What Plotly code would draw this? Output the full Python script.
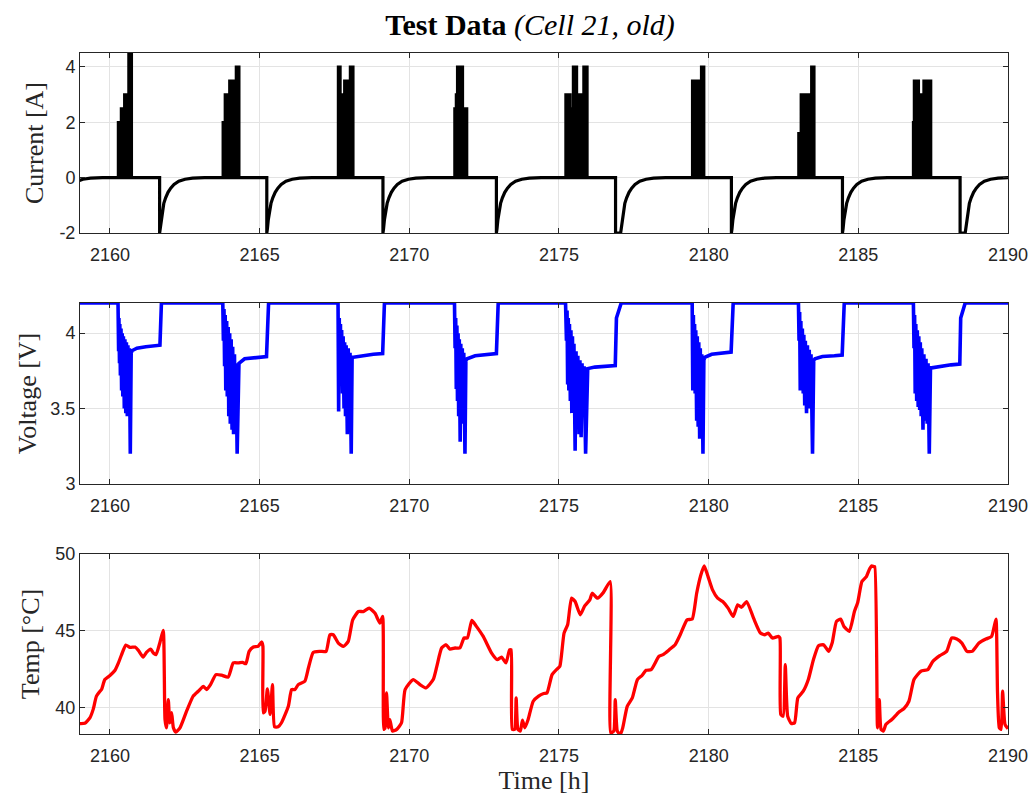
import plotly.graph_objects as go
from plotly.subplots import make_subplots

# ---------------- data ----------------
x_ticks = [2160, 2165, 2170, 2175, 2180, 2185, 2190]

# Current: charge events (jump to -2 A, optional CC hold, then CV taper)
charge_start = [2158.25, 2161.66, 2165.24, 2169.12, 2172.91, 2176.89, 2180.76, 2184.47, 2188.40]
charge_hold = [0, 0, 0, 0, 0, 0.17, 0, 0, 0.17]
taper_dt = [0.02, 0.05, 0.09, 0.14, 0.20, 0.28, 0.37, 0.48, 0.64, 0.85, 1.10, 1.50]
taper_i = [-1.85, -1.52, -1.20, -0.93, -0.73, -0.53, -0.38, -0.25, -0.13, -0.06, -0.02, 0.0]

# Current discharge bursts: step envelope (edges, levels)
burst1_edges = [2160.27, 2160.37, 2160.48, 2160.62, 2160.73]
burst1_levels = [2.0, 2.5, 3.0, 4.5]
burst2_edges = [2163.77, 2163.84, 2163.99, 2164.21, 2164.32]
burst2_levels = [2.0, 3.0, 3.5, 4.0]
burst3_edges = [2167.62, 2167.70, 2167.83, 2167.96, 2168.02, 2168.13]
burst3_levels = [4.0, 3.0, 3.5, 2.0, 4.0]
burst4_edges = [2171.51, 2171.56, 2171.60, 2171.66, 2171.72, 2171.79, 2171.93]
burst4_levels = [2.5, 3.0, 4.0, 3.0, 4.0, 2.5]
burst5_edges = [2175.22, 2175.38, 2175.47, 2175.60, 2175.82, 2175.95]
burst5_levels = [3.0, 2.5, 4.0, 3.0, 4.0]
burst6_edges = [2179.45, 2179.62, 2179.66, 2179.75, 2179.85]
burst6_levels = [3.5, 3.2, 3.5, 4.0]
burst7_edges = [2183.00, 2183.08, 2183.21, 2183.26, 2183.37, 2183.43, 2183.53]
burst7_levels = [1.6, 3.0, 2.2, 3.0, 2.4, 4.0]
burst8_edges = [2186.83, 2186.86, 2187.02, 2187.18, 2187.43]
burst8_levels = [2.0, 3.5, 3.0, 3.5]

# Voltage, per cycle (time, volts)
v_start = [(2159.00, 4.20)]
v_cycle1 = [(2160.27, 4.20), (2160.29, 3.88), (2160.30, 4.10), (2160.32, 3.80), (2160.33, 4.06),
            (2160.35, 3.72), (2160.37, 4.03), (2160.39, 3.62), (2160.41, 4.00), (2160.43, 3.58),
            (2160.45, 3.98), (2160.48, 3.50), (2160.50, 3.96), (2160.53, 3.47), (2160.55, 3.94),
            (2160.58, 3.45), (2160.60, 3.92), (2160.63, 3.55), (2160.65, 3.90), (2160.68, 3.20),
            (2160.71, 3.87), (2160.75, 3.885), (2160.90, 3.90), (2161.20, 3.91), (2161.65, 3.915),
            (2161.67, 3.92), (2161.72, 4.20)]
v_cycle2 = [(2163.77, 4.20), (2163.79, 3.95), (2163.81, 4.16), (2163.83, 3.78), (2163.85, 4.12),
            (2163.87, 3.62), (2163.90, 4.08), (2163.92, 3.58), (2163.95, 4.04), (2163.97, 3.45),
            (2164.00, 4.00), (2164.02, 3.40), (2164.05, 3.96), (2164.08, 3.36), (2164.10, 3.91),
            (2164.13, 3.33), (2164.16, 3.86), (2164.18, 3.45), (2164.21, 3.80), (2164.25, 3.20),
            (2164.28, 3.78), (2164.31, 3.80), (2164.50, 3.83), (2164.90, 3.84), (2165.23, 3.845),
            (2165.30, 4.20)]
v_cycle3 = [(2167.62, 4.20), (2167.64, 3.48), (2167.66, 4.10), (2167.68, 3.70), (2167.70, 4.06),
            (2167.72, 3.66), (2167.74, 4.02), (2167.77, 3.60), (2167.79, 3.98), (2167.82, 3.50),
            (2167.84, 3.94), (2167.87, 3.45), (2167.89, 3.92), (2167.93, 3.33), (2167.96, 3.90),
            (2167.99, 3.50), (2168.02, 3.87), (2168.06, 3.20), (2168.09, 3.84), (2168.13, 3.84),
            (2168.40, 3.85), (2168.80, 3.86), (2169.11, 3.865), (2169.17, 4.20)]
v_cycle4 = [(2171.51, 4.20), (2171.53, 3.90), (2171.55, 4.10), (2171.57, 3.63), (2171.59, 4.05),
            (2171.61, 3.55), (2171.63, 4.00), (2171.65, 3.45), (2171.67, 3.96), (2171.70, 3.28),
            (2171.72, 3.93), (2171.75, 3.44), (2171.77, 3.90), (2171.80, 3.40), (2171.82, 3.87),
            (2171.86, 3.20), (2171.89, 3.82), (2171.93, 3.83), (2172.20, 3.85), (2172.60, 3.86),
            (2172.91, 3.865), (2172.97, 4.20)]
v_cycle5 = [(2175.22, 4.20), (2175.25, 3.95), (2175.27, 4.15), (2175.29, 3.66), (2175.31, 4.10),
            (2175.33, 3.62), (2175.35, 4.06), (2175.38, 3.55), (2175.40, 4.02), (2175.43, 3.47),
            (2175.45, 3.98), (2175.48, 3.52), (2175.50, 3.93), (2175.54, 3.22), (2175.57, 3.88),
            (2175.60, 3.40), (2175.63, 3.85), (2175.67, 3.33), (2175.70, 3.82), (2175.74, 3.31),
            (2175.77, 3.80), (2175.81, 3.45), (2175.84, 3.78), (2175.89, 3.20), (2175.93, 3.76),
            (2175.96, 3.765), (2176.20, 3.775), (2176.60, 3.78), (2176.88, 3.785), (2176.92, 4.10),
            (2177.08, 4.20)]
v_cycle6 = [(2179.45, 4.20), (2179.47, 3.62), (2179.49, 4.12), (2179.51, 3.66), (2179.53, 4.06),
            (2179.55, 3.60), (2179.57, 4.02), (2179.60, 3.42), (2179.62, 3.98), (2179.65, 3.38),
            (2179.67, 3.94), (2179.70, 3.30), (2179.72, 3.90), (2179.75, 3.45), (2179.77, 3.86),
            (2179.81, 3.20), (2179.84, 3.82), (2179.87, 3.84), (2180.10, 3.86), (2180.50, 3.87),
            (2180.75, 3.875), (2180.82, 4.20)]
v_cycle7 = [(2183.00, 4.20), (2183.02, 3.95), (2183.04, 4.14), (2183.06, 3.62), (2183.08, 4.08),
            (2183.11, 3.65), (2183.13, 4.03), (2183.16, 3.60), (2183.18, 3.99), (2183.21, 3.52),
            (2183.23, 3.95), (2183.27, 3.47), (2183.30, 3.92), (2183.33, 3.54), (2183.36, 3.89),
            (2183.39, 3.50), (2183.42, 3.86), (2183.47, 3.20), (2183.51, 3.82), (2183.55, 3.83),
            (2183.80, 3.845), (2184.20, 3.85), (2184.46, 3.855), (2184.53, 4.20)]
v_cycle8 = [(2186.84, 4.20), (2186.86, 3.90), (2186.88, 4.12), (2186.90, 3.60), (2186.92, 4.06),
            (2186.95, 3.55), (2186.97, 4.02), (2187.00, 3.51), (2187.02, 3.98), (2187.05, 3.49),
            (2187.07, 3.94), (2187.10, 3.45), (2187.12, 3.90), (2187.16, 3.36), (2187.19, 3.86),
            (2187.23, 3.42), (2187.26, 3.83), (2187.30, 3.40), (2187.33, 3.80), (2187.37, 3.20),
            (2187.41, 3.77), (2187.45, 3.77), (2187.70, 3.78), (2188.10, 3.79), (2188.39, 3.795),
            (2188.42, 4.10), (2188.57, 4.20), (2190.00, 4.20)]

# Temperature (time, degC)
temp_t = [2159.00, 2159.16, 2159.33, 2159.44, 2159.55, 2159.67, 2159.72, 2159.83, 2160.00, 2160.17,
          2160.28, 2160.39, 2160.53, 2160.67, 2160.84, 2160.95, 2161.11, 2161.22, 2161.36, 2161.45,
          2161.54, 2161.67, 2161.78, 2161.84, 2161.89, 2161.95, 2162.00, 2162.06, 2162.12, 2162.20,
          2162.34, 2162.56, 2162.78, 2162.95, 2163.12, 2163.23, 2163.36, 2163.54, 2163.73, 2163.95,
          2164.12, 2164.29, 2164.43, 2164.54, 2164.65, 2164.79, 2164.95, 2165.07, 2165.11, 2165.12,
          2165.18, 2165.26, 2165.35, 2165.43, 2165.50, 2165.62, 2165.73, 2165.96, 2166.07, 2166.18,
          2166.29, 2166.51, 2166.63, 2166.79, 2167.02, 2167.22, 2167.35, 2167.46, 2167.63, 2167.80,
          2167.96, 2168.11, 2168.30, 2168.46, 2168.66, 2168.85, 2169.02, 2169.11, 2169.15, 2169.19,
          2169.24, 2169.30, 2169.35, 2169.44, 2169.58, 2169.74, 2169.86, 2170.13, 2170.36, 2170.56,
          2170.80, 2170.92, 2171.08, 2171.23, 2171.36, 2171.53, 2171.69, 2171.83, 2171.94, 2172.09,
          2172.23, 2172.47, 2172.75, 2172.94, 2173.08, 2173.23, 2173.35, 2173.40, 2173.44, 2173.52,
          2173.57, 2173.63, 2173.71, 2173.78, 2173.86, 2173.97, 2174.14, 2174.32, 2174.49, 2174.60,
          2174.77, 2174.94, 2175.03, 2175.17, 2175.29, 2175.42, 2175.54, 2175.71, 2175.86, 2176.03,
          2176.11, 2176.29, 2176.48, 2176.71, 2176.73, 2176.83, 2176.88, 2176.95, 2177.05, 2177.13,
          2177.28, 2177.45, 2177.62, 2177.77, 2177.91, 2178.08, 2178.34, 2178.48, 2178.71, 2178.88,
          2179.05, 2179.28, 2179.45, 2179.60, 2179.73, 2179.85, 2179.98, 2180.13, 2180.30, 2180.47,
          2180.65, 2180.82, 2180.97, 2181.10, 2181.27, 2181.50, 2181.73, 2181.88, 2181.99, 2182.13,
          2182.33, 2182.38, 2182.41, 2182.49, 2182.56, 2182.64, 2182.76, 2182.87, 2182.98, 2183.16,
          2183.33, 2183.50, 2183.67, 2183.84, 2184.01, 2184.13, 2184.27, 2184.41, 2184.52, 2184.70,
          2184.87, 2184.98, 2185.12, 2185.27, 2185.36, 2185.44, 2185.52, 2185.55, 2185.64, 2185.70,
          2185.76, 2185.84, 2185.92, 2186.12, 2186.35, 2186.52, 2186.69, 2186.86, 2187.09, 2187.32,
          2187.49, 2187.72, 2187.95, 2188.12, 2188.29, 2188.46, 2188.63, 2188.80, 2189.03, 2189.26,
          2189.45, 2189.54, 2189.60, 2189.65, 2189.71, 2189.77, 2189.82, 2189.90, 2190.00]
temp_v = [38.98, 39.00, 39.35, 39.90, 40.76, 41.08, 41.19, 41.84, 42.10, 42.44,
          42.90, 43.46, 44.08, 43.93, 43.95, 43.74, 43.30, 43.60, 43.82, 43.56,
          43.46, 44.25, 45.03, 39.24, 38.70, 40.54, 39.03, 39.68, 38.70, 38.42,
          38.70, 39.78, 40.76, 41.08, 41.40, 41.19, 41.51, 42.16, 42.12, 42.00,
          42.92, 42.92, 42.96, 42.87, 43.67, 43.95, 44.00, 44.28, 44.00, 39.68,
          39.78, 41.23, 39.57, 41.51, 38.77, 38.77, 39.03, 40.10, 41.19, 41.19,
          41.51, 41.73, 42.59, 43.60, 43.67, 43.67, 44.75, 44.75, 44.21, 44.00,
          44.32, 45.72, 46.26, 46.26, 46.48, 46.16, 45.51, 45.94, 38.60, 38.70,
          40.97, 38.70, 39.24, 38.49, 38.60, 39.03, 41.19, 41.84, 41.51, 41.30,
          41.84, 42.70, 43.89, 44.10, 43.82, 43.89, 43.89, 44.54, 44.54, 45.68,
          45.33, 44.64, 43.56, 43.13, 43.30, 42.92, 43.78, 43.78, 38.60, 38.60,
          40.65, 38.60, 38.49, 39.20, 38.70, 39.24, 40.43, 40.76, 40.93, 40.97,
          42.16, 42.53, 42.70, 44.86, 45.40, 47.13, 46.91, 46.05, 46.63, 47.02,
          47.45, 47.13, 47.49, 48.21, 38.38, 38.49, 40.54, 38.49, 38.27, 38.70,
          40.10, 40.65, 41.84, 42.10, 42.44, 42.48, 43.35, 43.46, 43.82, 44.10,
          44.75, 45.72, 45.77, 47.45, 48.57, 49.22, 48.53, 47.67, 47.13, 46.91,
          46.48, 45.94, 46.70, 46.54, 46.91, 45.83, 44.86, 44.75, 44.86, 44.54,
          44.64, 44.54, 39.57, 39.46, 42.81, 39.46, 38.98, 39.03, 40.65, 41.08,
          41.84, 43.13, 44.04, 44.10, 43.67, 44.25, 45.62, 45.77, 45.29, 44.97,
          46.26, 46.85, 48.21, 48.53, 48.96, 49.22, 49.18, 49.18, 38.70, 40.54,
          38.60, 38.49, 38.92, 39.24, 39.72, 39.94, 40.43, 41.84, 42.38, 42.48,
          43.02, 43.39, 43.67, 44.54, 44.47, 44.21, 43.67, 43.67, 44.21, 44.47,
          44.64, 45.29, 45.77, 40.97, 38.70, 38.60, 41.08, 38.92, 38.64]

# ---------------- build traces from the read values ----------------
cur_t, cur_i = [], []
for tc, hold in zip(charge_start, charge_hold):
    cur_t += [tc, tc]
    cur_i += [0.0, -2.0]
    if hold > 0:
        cur_t.append(tc + hold)
        cur_i.append(-2.0)
    for dt, iv in zip(taper_dt, taper_i):
        cur_t.append(tc + hold + dt)
        cur_i.append(iv)

bursts = [(burst1_edges, burst1_levels), (burst2_edges, burst2_levels),
          (burst3_edges, burst3_levels), (burst4_edges, burst4_levels),
          (burst5_edges, burst5_levels), (burst6_edges, burst6_levels),
          (burst7_edges, burst7_levels), (burst8_edges, burst8_levels)]

volt = v_start + v_cycle1 + v_cycle2 + v_cycle3 + v_cycle4 + v_cycle5 + v_cycle6 + v_cycle7 + v_cycle8
volt_t = [p[0] for p in volt]
volt_v = [p[1] for p in volt]

fig = make_subplots(rows=3, cols=1)

fig.add_trace(go.Scatter(x=cur_t, y=cur_i, mode="lines",
                         line=dict(color="black", width=3.2), showlegend=False), row=1, col=1)
for edges, levels in bursts:
    bx, by = [edges[0]], [0.0]
    for k, lv in enumerate(levels):
        bx += [edges[k], edges[k + 1]]
        by += [lv, lv]
    bx.append(edges[-1])
    by.append(0.0)
    fig.add_trace(go.Scatter(x=bx, y=by, mode="lines", fill="toself", fillcolor="black",
                             line=dict(color="black", width=2.5), showlegend=False), row=1, col=1)

fig.add_trace(go.Scatter(x=volt_t, y=volt_v, mode="lines",
                         line=dict(color="#0000ff", width=3.6), showlegend=False), row=2, col=1)
fig.add_trace(go.Scatter(x=temp_t, y=temp_v, mode="lines",
                         line=dict(color="#ff0000", width=3.3, shape="spline", smoothing=0.5),
                         showlegend=False), row=3, col=1)

# ---------------- layout ----------------
ph = 796 - 53 - 62
dom1 = [1 - 180 / ph, 1.0]
dom2 = [1 - 431 / ph, 1 - 250 / ph]
dom3 = [0.0, 180 / ph]

tick_font = dict(family="Liberation Sans, Arial, sans-serif", size=18, color="#262626")
title_font = dict(family="Liberation Serif, Times New Roman, serif", size=26, color="#262626")

axis_common = dict(showline=True, linecolor="#262626", linewidth=1, mirror="ticks",
                   ticks="inside", ticklen=5, tickcolor="#262626", showgrid=True,
                   gridcolor="#e3e3e3", gridwidth=1, zeroline=False, tickfont=tick_font)

for r in (1, 2, 3):
    fig.update_xaxes(range=[2159, 2190], tickvals=x_ticks, ticktext=[str(v) for v in x_ticks],
                     ticklabelstandoff=5, **axis_common, row=r, col=1)

fig.update_xaxes(title=dict(text="Time [h]", font=title_font, standoff=2), row=3, col=1)
fig.update_yaxes(range=[-2, 4.5], tickvals=[-2, 0, 2, 4], ticktext=["-2", "0", "2", "4"],
                 title=dict(text="Current [A]", font=title_font, standoff=8), **axis_common, row=1, col=1)
fig.update_yaxes(range=[3, 4.2], tickvals=[3, 3.5, 4], ticktext=["3", "3.5", "4"],
                 title=dict(text="Voltage [V]", font=title_font, standoff=6), **axis_common, row=2, col=1)
fig.update_yaxes(range=[38.3, 50], tickvals=[40, 45, 50], ticktext=["40", "45", "50"],
                 title=dict(text="Temp [°C]", font=title_font, standoff=8), **axis_common, row=3, col=1)

fig.update_layout(
    width=1035, height=796,
    margin=dict(l=80, r=27, t=53, b=62, autoexpand=False),
    paper_bgcolor="white", plot_bgcolor="white",
    yaxis=dict(domain=dom1), yaxis2=dict(domain=dom2), yaxis3=dict(domain=dom3),
    title=dict(text="<b>Test Data</b> <i>(Cell 21, old)</i>", x=530 / 1035, xanchor="center",
               y=1 - 24 / 796, yanchor="middle",
               font=dict(family="Liberation Serif, Times New Roman, serif", size=30, color="black")),
    showlegend=False,
)

fig.write_html("out.html", config={"displayModeBar": False},
               post_script="document.body.style.margin='0';document.body.style.overflow='hidden';")
